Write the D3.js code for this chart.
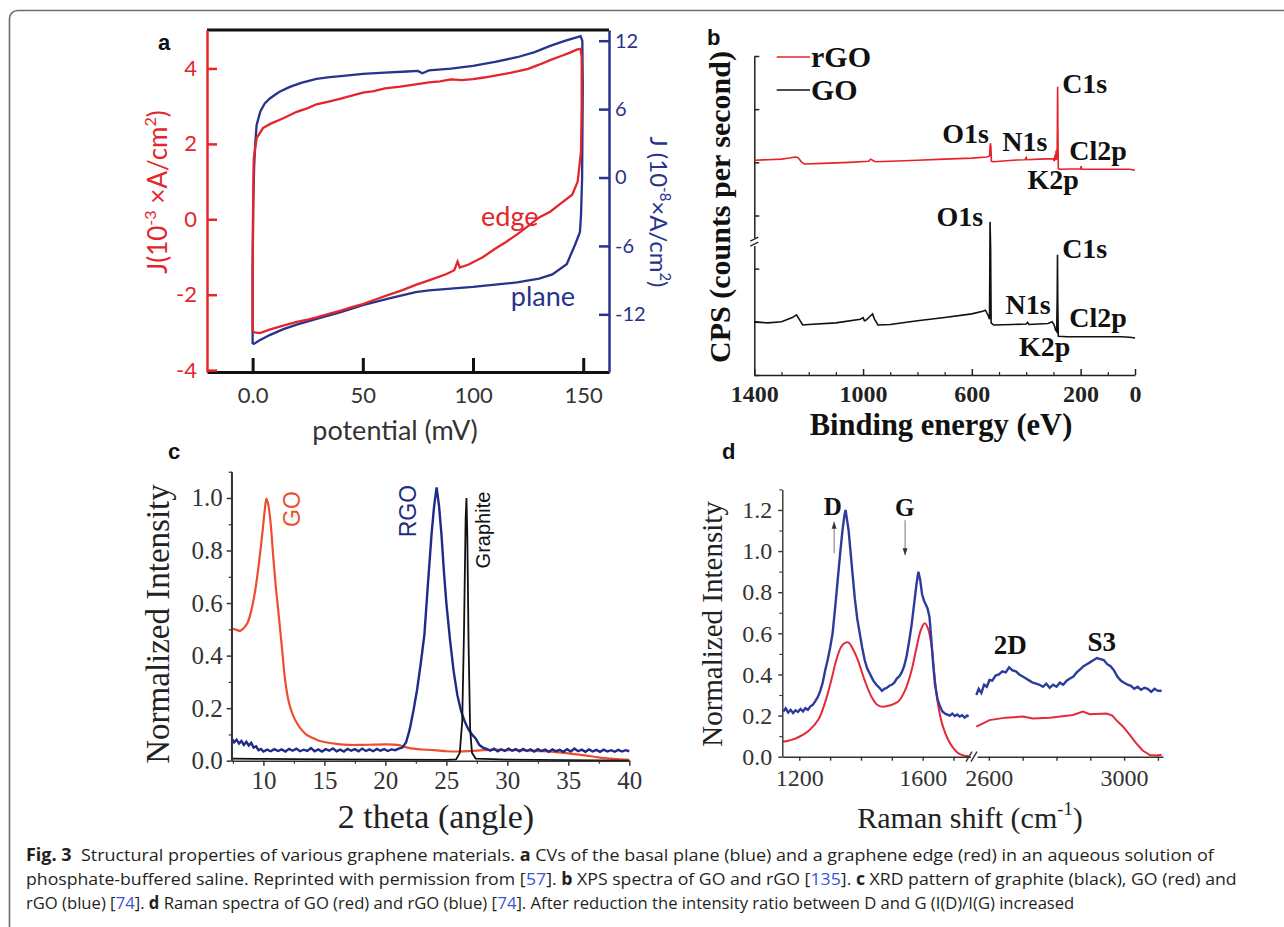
<!DOCTYPE html>
<html><head><meta charset="utf-8">
<script src="https://cdn.jsdelivr.net/npm/d3@7"></script>
<style>body{margin:0;background:#fff}svg{display:block}</style>
</head><body><svg id="fig" width="1284" height="927"></svg>
<script>
// ---------------- DATA ----------------
// Panel a: cyclic voltammograms [potential mV, J]
const cvEdge = [[0,-2.98],[0,-1.5],[0.2,0.2],[0.5,1.6],[1.8,2.15],[4.7,2.42],[8,2.53],[13.9,2.68],[20,2.85],[25,2.95],[29,3.05],[35,3.13],[40,3.2],[45,3.28],[50,3.36],[55,3.4],[60,3.47],[67,3.52],[74,3.58],[80,3.63],[85,3.66],[90,3.71],[95,3.69],[100,3.72],[105,3.76],[110,3.81],[115,3.86],[120,3.92],[125,3.99],[130,4.1],[135,4.22],[140,4.33],[144,4.42],[147,4.5],[148.8,4.52],[149.3,4.3],[149.3,3.0],[149,1.8],[147.5,1.0],[145,0.65],[139,0.38],[135,0.2],[130,0.05],[125,-0.18],[120,-0.4],[115,-0.6],[110,-0.78],[104.6,-1.0],[98,-1.2],[94,-1.28],[93,-1.12],[91.5,-1.35],[88,-1.45],[80,-1.62],[74,-1.74],[68,-1.88],[62,-2.0],[56,-2.12],[50,-2.25],[45,-2.33],[40,-2.42],[35,-2.5],[29,-2.6],[25,-2.66],[20,-2.72],[13.9,-2.82],[8,-2.92],[3.3,-3.02],[1,-3.0],[0,-2.98]];
const cvPlane = [[0,-14.6],[0,-8],[0.3,-2],[0.7,1.0],[1.2,3.0],[1.8,4.6],[3.5,5.8],[5.5,6.5],[7.8,6.93],[12,7.5],[16.9,7.95],[22,8.3],[29,8.65],[35,8.8],[40,8.9],[50,9.1],[60,9.2],[70,9.3],[75,9.35],[77,9.15],[80,9.4],[90,9.55],[100,9.8],[110,10.15],[120,10.55],[128,11.0],[135,11.55],[142,12.0],[147,12.3],[148.8,12.4],[149.6,12.0],[149.8,8],[149.5,0],[149,-3.3],[148.5,-4.8],[146.3,-5.9],[142.5,-7.6],[136,-8.5],[130,-8.86],[120,-9.2],[110,-9.4],[100,-9.6],[90,-9.75],[80,-9.9],[74,-10.05],[62,-10.6],[50,-11.2],[40,-11.8],[29,-12.4],[20,-12.9],[14,-13.3],[8,-13.8],[3,-14.3],[0.5,-14.6],[0,-14.6]];
const cvXTicks = [0, 50, 100, 150];
const cvLeftTicks = [-4, -2, 0, 2, 4];
const cvRightTicks = [-12, -6, 0, 6, 12];

// Panel b: XPS survey [binding energy eV, counts (a.u.)]
const xpsRGO = [[1400,4.04],[1350,4.05],[1300,4.06],[1270,4.08],[1250,4.1],[1240,4.09],[1225,4.0],[1215,3.97],[1150,3.98],[1050,4.0],[980,4.02],[972,4.06],[962,4.03],[955,4.01],[900,4.02],[800,4.04],[700,4.06],[600,4.08],[545,4.1],[535,4.12],[532,4.36],[530,4.3],[528,4.02],[520,4.01],[450,4.04],[405,4.05],[400,4.09],[398,4.05],[350,4.06],[300,4.07],[297,4.02],[294,4.14],[292,4.04],[290,4.22],[288,4.05],[286,4.3],[285,5.1],[284.5,5.42],[283.5,4.6],[282,3.88],[275,3.87],[200,3.88],[198,3.93],[196,3.87],[100,3.87],[20,3.87],[10,3.86],[0,3.85]];
const xpsGO = [[1400,1.0],[1350,0.98],[1300,1.0],[1260,1.08],[1245,1.13],[1235,1.05],[1222,0.94],[1200,0.95],[1100,0.98],[1010,1.05],[1000,1.08],[995,1.02],[990,1.03],[975,1.1],[965,1.15],[958,1.05],[945,0.94],[900,0.95],[800,1.02],[700,1.08],[600,1.15],[560,1.2],[550,1.22],[540,1.12],[535,1.05],[533,2.88],[531,2.4],[529,0.98],[520,0.94],[450,0.95],[400,0.96],[395,0.99],[390,0.95],[320,0.97],[305,1.0],[298,0.95],[292,0.85],[288,0.82],[286,1.5],[285,2.26],[284,1.4],[282,0.73],[250,0.72],[150,0.72],[50,0.72],[20,0.71],[5,0.7],[0,0.69]];
const xpsXTicks = [1400, 1000, 600, 200, 0];
const xpsXMinor = [1300, 1200, 1100, 900, 800, 700, 500, 400, 300, 100];
const xpsYTicks = [0, 1, 2, 3, 4, 5, 6];
const xpsLabels = [["O1s",622.8,4.546],["N1s",405,4.378],["C1s",185,5.486],["Cl2p",136,4.213],["K2p",301,3.667],
                   ["O1s",644,2.977],["C1s",185,2.383],["N1s",393,1.317],["Cl2p",136,1.078],["K2p",332,0.532]];

// Panel c: XRD [2 theta, normalized intensity]
const xrdGO = [[7.4,0.503],[7.8,0.498],[8.1,0.494],[8.4,0.505],[8.7,0.525],[9.0,0.57],[9.3,0.64],[9.6,0.74],[9.9,0.86],[10.1,0.95],[10.25,0.998],[10.4,0.975],[10.6,0.9],[10.8,0.78],[11.0,0.67],[11.2,0.58],[11.5,0.44],[11.8,0.3],[12.1,0.22],[12.5,0.165],[13.0,0.125],[13.5,0.1],[14.0,0.087],[14.5,0.077],[15.0,0.071],[16.0,0.064],[17.0,0.06],[18.0,0.06],[19.0,0.061],[20.0,0.062],[21.0,0.06],[21.8,0.05],[22.5,0.045],[24.0,0.04],[25.0,0.036],[26.0,0.035],[27.0,0.037],[28.0,0.04],[29.0,0.042],[30.0,0.04],[31.0,0.04],[32.0,0.038],[33.0,0.036],[34.0,0.033],[35.0,0.028],[36.0,0.022],[37.0,0.016],[38.0,0.01],[39.0,0.006],[40.0,0.003]];
const xrdRGO = [[7.4,0.085],[7.6,0.07],[7.8,0.08],[8.0,0.065],[8.2,0.075],[8.4,0.06],[8.6,0.072],[8.8,0.058],[9.0,0.068],[9.2,0.05],[9.4,0.055],[9.6,0.04],[9.8,0.045],[10.0,0.035],[10.3,0.042],[10.6,0.036],[10.9,0.044],[11.2,0.037],[11.5,0.043],[11.8,0.035],[12.1,0.045],[12.4,0.038],[12.7,0.046],[13.0,0.036],[13.3,0.042],[13.6,0.037],[13.9,0.048],[14.2,0.036],[14.5,0.043],[14.8,0.035],[15.1,0.044],[15.4,0.038],[15.7,0.047],[16.0,0.036],[16.3,0.042],[16.6,0.035],[16.9,0.045],[17.2,0.038],[17.5,0.044],[17.8,0.036],[18.1,0.046],[18.4,0.037],[18.7,0.043],[19.0,0.036],[19.3,0.045],[19.6,0.038],[19.9,0.044],[20.2,0.037],[20.5,0.043],[20.8,0.04],[21.1,0.046],[21.4,0.05],[21.7,0.07],[22.0,0.12],[22.3,0.19],[22.6,0.27],[22.9,0.37],[23.2,0.48],[23.5,0.68],[23.8,0.87],[24.0,0.97],[24.2,1.04],[24.4,0.97],[24.6,0.86],[24.8,0.72],[25.0,0.6],[25.3,0.46],[25.6,0.34],[25.9,0.25],[26.2,0.19],[26.5,0.15],[26.8,0.12],[27.1,0.1],[27.4,0.085],[27.7,0.06],[28.0,0.05],[28.3,0.045],[28.6,0.038],[28.9,0.046],[29.2,0.036],[29.5,0.043],[29.8,0.037],[30.1,0.046],[30.4,0.038],[30.7,0.044],[31.0,0.036],[31.3,0.045],[31.6,0.037],[31.9,0.043],[32.2,0.035],[32.5,0.044],[32.8,0.037],[33.1,0.042],[33.4,0.034],[33.7,0.043],[34.0,0.036],[34.3,0.041],[34.6,0.034],[34.9,0.044],[35.2,0.035],[35.5,0.046],[35.8,0.036],[36.1,0.042],[36.4,0.034],[36.7,0.043],[37.0,0.035],[37.3,0.041],[37.6,0.034],[37.9,0.042],[38.2,0.035],[38.5,0.04],[38.8,0.034],[39.1,0.041],[39.4,0.035],[39.7,0.04],[40.0,0.036]];
const xrdGraphite = [[7.4,0.008],[10,0.007],[15,0.005],[20,0.004],[25,0.003],[25.8,0.005],[26.1,0.03],[26.3,0.15],[26.45,0.5],[26.58,0.92],[26.65,1.0],[26.72,0.85],[26.82,0.45],[26.95,0.12],[27.1,0.03],[27.4,0.008],[30,0.004],[35,0.002],[40,0.0]];
const xrdXTicks = [10, 15, 20, 25, 30, 35, 40];
const xrdXMinor = [7.5, 12.5, 17.5, 22.5, 27.5, 32.5, 37.5];
const xrdYTicks = [0, 0.2, 0.4, 0.6, 0.8, 1.0];
const xrdYMinor = [0.1, 0.3, 0.5, 0.7, 0.9, 1.1];
const xrdLabels = [["GO",12.32,0.958],["RGO",21.86,0.95],["Graphite",28.0,0.878]];

// Panel d: Raman [shift cm-1, normalized intensity]
const ramanRGOLow = [[1148,0.22],[1156,0.235],[1164,0.215],[1172,0.228],[1180,0.212],[1188,0.226],[1196,0.218],[1204,0.232],[1212,0.22],[1220,0.236],[1228,0.228],[1236,0.245],[1244,0.252],[1252,0.27],[1260,0.29],[1268,0.32],[1276,0.36],[1284,0.42],[1292,0.47],[1300,0.53],[1308,0.6],[1316,0.72],[1324,0.85],[1332,0.98],[1340,1.1],[1346,1.17],[1350,1.2],[1354,1.16],[1360,1.1],[1366,1.0],[1372,0.9],[1380,0.77],[1388,0.67],[1396,0.6],[1404,0.53],[1412,0.47],[1420,0.43],[1430,0.4],[1440,0.37],[1450,0.35],[1460,0.335],[1468,0.32],[1476,0.33],[1484,0.335],[1492,0.345],[1500,0.35],[1508,0.36],[1516,0.38],[1524,0.39],[1532,0.41],[1540,0.44],[1548,0.49],[1556,0.56],[1564,0.64],[1572,0.74],[1580,0.84],[1586,0.9],[1592,0.86],[1598,0.79],[1604,0.76],[1610,0.74],[1616,0.72],[1622,0.68],[1628,0.57],[1634,0.45],[1640,0.35],[1648,0.28],[1656,0.245],[1664,0.22],[1672,0.21],[1680,0.205],[1688,0.2],[1696,0.21],[1704,0.198],[1712,0.205],[1720,0.195],[1728,0.202],[1736,0.19],[1744,0.2],[1749,0.195]];
const ramanGOLow = [[1148,0.073],[1175,0.082],[1200,0.097],[1230,0.125],[1261,0.178],[1285,0.27],[1304,0.373],[1320,0.47],[1336,0.535],[1350,0.555],[1360,0.555],[1375,0.52],[1390,0.47],[1410,0.38],[1434,0.292],[1455,0.25],[1472,0.243],[1495,0.25],[1521,0.268],[1545,0.33],[1564,0.42],[1580,0.53],[1595,0.62],[1607,0.649],[1618,0.62],[1629,0.535],[1640,0.37],[1651,0.243],[1665,0.15],[1683,0.081],[1700,0.04],[1716,0.016],[1735,0.005],[1749,0.003]];
const ramanRGOHigh = [[2563,0.3],[2570,0.33],[2578,0.31],[2586,0.35],[2594,0.34],[2602,0.373],[2610,0.37],[2620,0.395],[2630,0.4],[2640,0.415],[2650,0.41],[2660,0.435],[2670,0.42],[2680,0.415],[2690,0.4],[2700,0.39],[2710,0.38],[2720,0.37],[2730,0.36],[2740,0.355],[2750,0.35],[2760,0.34],[2770,0.355],[2780,0.335],[2790,0.35],[2800,0.34],[2810,0.36],[2820,0.35],[2830,0.37],[2840,0.38],[2850,0.39],[2860,0.41],[2870,0.425],[2880,0.44],[2890,0.45],[2900,0.46],[2910,0.47],[2920,0.48],[2930,0.475],[2940,0.47],[2950,0.45],[2960,0.44],[2970,0.42],[2980,0.39],[2990,0.37],[3000,0.36],[3010,0.35],[3020,0.345],[3030,0.33],[3040,0.34],[3050,0.325],[3060,0.335],[3070,0.33],[3080,0.315],[3090,0.33],[3100,0.32],[3111,0.321]];
const ramanGOHigh = [[2563,0.146],[2580,0.16],[2602,0.178],[2650,0.19],[2701,0.195],[2730,0.186],[2780,0.19],[2849,0.203],[2878,0.219],[2898,0.207],[2948,0.21],[2965,0.2],[2977,0.178],[2997,0.146],[3015,0.11],[3036,0.065],[3055,0.03],[3076,0.008],[3095,0.006],[3111,0.01]];
const ramanLowTicks = [1200, 1300, 1400, 1500, 1600, 1700];
const ramanLowLabels = [1200, 1600];
const ramanHighTicks = [2600, 2700, 2800, 2900, 3000, 3100];
const ramanHighLabels = [2600, 3000];
const ramanYTicks = [0, 0.2, 0.4, 0.6, 0.8, 1.0, 1.2];
const ramanYMinor = [0.1, 0.3, 0.5, 0.7, 0.9, 1.1, 1.3];
const ramanPeakLabels = [["D",1309,1.217,"low"],["G",1542,1.21,"low"],["2D",2663,0.543,"high"],["S3",2934,0.559,"high"]];
const ramanArrows = [[1313,0.99,1.143],[1543,1.15,0.98]];

// ---------------- DRAW ----------------
const SANS = "Lato, 'Open Sans', sans-serif";
const SERIF = "'Liberation Serif', 'Times New Roman', serif";
const svg = d3.select("#fig");

// outer rounded frame
svg.append("path").attr("d","M9.5,927 L9.5,18.5 A8,8 0 0 1 17.5,10.5 L1284,10.5")
  .attr("fill","none").attr("stroke","#6e6e6e").attr("stroke-width",1.6);

function styleAxis(g, color, w, font, size, weight){
  g.attr("font-family", font).attr("font-size", size).attr("font-weight", weight||"normal");
  g.select(".domain").attr("stroke", color).attr("stroke-width", w);
  g.selectAll(".tick line").attr("stroke", color).attr("stroke-width", w);
  g.selectAll(".tick text").attr("fill", color);
}
function rich(textSel, parts, fs){
  parts.forEach((p,i)=>{
    const t = textSel.append("tspan").text(p.t);
    if(p.sup){ t.attr("font-size", fs*0.62).attr("dy", -fs*0.42); }
    else if(i>0 && parts[i-1].sup){ t.attr("dy", fs*0.42); }
  });
}
function panelLetter(x,y,s){
  svg.append("text").attr("x",x).attr("y",y).text(s)
    .attr("font-family","'Liberation Sans', Arial, sans-serif").attr("font-weight","bold").attr("font-size",22).attr("fill","#111");
}

// ===== Panel a =====
const A = {l:207, r:609, t:30, b:372};
const aRed = "#e3262b", aBlue = "#27338c";
const ax = d3.scaleLinear().domain([-20.7, 161.7]).range([A.l, A.r]);
const ayL = d3.scaleLinear().domain([-4.05, 5.02]).range([A.b, A.t]);
const ayR = d3.scaleLinear().domain([-17.06, 12.94]).range([A.b, A.t]);
const pa = svg.append("g");
pa.append("line").attr("x1",A.l).attr("x2",A.r).attr("y1",A.t).attr("y2",A.t).attr("stroke","#111").attr("stroke-width",3);
const gAB = pa.append("g").attr("transform",`translate(0,${A.b})`)
  .call(d3.axisBottom(ax).tickValues(cvXTicks).tickSize(-14).tickSizeOuter(0).tickPadding(15).tickFormat(d=> d===0?"0.0":String(d)));
styleAxis(gAB, "#111", 3, SANS, 22);
gAB.selectAll(".tick text").attr("fill","#333");
const gAL = pa.append("g").attr("transform",`translate(${A.l},0)`)
  .call(d3.axisLeft(ayL).tickValues(cvLeftTicks).tickSize(-10).tickSizeOuter(0).tickPadding(10).tickFormat(d=>String(d)));
styleAxis(gAL, aRed, 2.5, SANS, 22);
const gAR = pa.append("g").attr("transform",`translate(${A.r},0)`)
  .call(d3.axisRight(ayR).tickValues(cvRightTicks).tickSize(-10).tickSizeOuter(0).tickPadding(6).tickFormat(d=>String(d)));
styleAxis(gAR, aBlue, 2.5, SANS, 20);
pa.append("path").datum(cvPlane).attr("fill","none").attr("stroke",aBlue).attr("stroke-width",2.3)
  .attr("d", d3.line().x(d=>ax(d[0])).y(d=>ayR(d[1])));
pa.append("path").datum(cvEdge).attr("fill","none").attr("stroke",aRed).attr("stroke-width",2.3)
  .attr("d", d3.line().x(d=>ax(d[0])).y(d=>ayL(d[1])));
pa.append("text").attr("x",ax(116.7)).attr("y",ayL(0.03)).attr("dy","0.3em").attr("text-anchor","middle")
  .attr("font-family",SANS).attr("font-size",27).attr("fill",aRed).text("edge");
pa.append("text").attr("x",ax(131.7)).attr("y",ayR(-10.59)).attr("dy","0.3em").attr("text-anchor","middle")
  .attr("font-family",SANS).attr("font-size",27).attr("fill",aBlue).text("plane");
pa.append("text").attr("x",(A.l+A.r)/2-13).attr("y",440).attr("text-anchor","middle")
  .attr("font-family",SANS).attr("font-size",27).attr("fill","#333").text("potential (mV)");
const aYL = pa.append("text").attr("transform","translate(167,192) rotate(-90)").attr("text-anchor","middle")
  .attr("font-family",SANS).attr("font-size",26).attr("fill",aRed);
rich(aYL,[{t:"J(10"},{t:"-3",sup:true},{t:" ×A/cm"},{t:"2",sup:true},{t:")"}],26);
const aYR = pa.append("text").attr("transform","translate(650,212) rotate(90)").attr("text-anchor","middle")
  .attr("font-family",SANS).attr("font-size",24).attr("fill",aBlue);
rich(aYR,[{t:"J (10"},{t:"-8",sup:true},{t:"×A/cm"},{t:"2",sup:true},{t:")"}],24);
panelLetter(158,50,"a");

// ===== Panel b =====
const B = {l:754.3, r:1135, t:56, b:375};
const bx = d3.scaleLinear().domain([1400,0]).range([B.l,B.r]);
const by = d3.scaleLinear().domain([0,6]).range([B.b,B.t]);
const pb = svg.append("g");
const gBY = pb.append("g").attr("transform",`translate(${B.l},0)`)
  .call(d3.axisLeft(by).tickValues(xpsYTicks).tickSize(-5).tickSizeOuter(0).tickFormat(""));
styleAxis(gBY, "#222", 1.5, SERIF, 24);
const gBX = pb.append("g").attr("transform",`translate(0,${B.b})`)
  .call(d3.axisBottom(bx).tickValues(xpsXTicks).tickSize(-6).tickSizeOuter(0).tickPadding(10).tickFormat(d=>String(d)));
styleAxis(gBX, "#222", 1.5, SERIF, 24, "bold");
const gBXm = pb.append("g").attr("transform",`translate(0,${B.b})`)
  .call(d3.axisBottom(bx).tickValues(xpsXMinor).tickSize(-3).tickSizeOuter(0).tickFormat(""));
gBXm.select(".domain").remove();
gBXm.selectAll(".tick line").attr("stroke","#222").attr("stroke-width",1.2);
// axis break
const brkY = by(2.5);
pb.append("rect").attr("x",B.l-4).attr("y",brkY-4).attr("width",8).attr("height",8).attr("fill","#fff");
pb.append("path").attr("d",`M${B.l-4},${brkY-1} L${B.l+4},${brkY-5} M${B.l-4},${brkY+4} L${B.l+4},${brkY}`)
  .attr("stroke","#222").attr("stroke-width",1.3).attr("fill","none");
pb.append("path").datum(xpsRGO).attr("fill","none").attr("stroke","#e8202a").attr("stroke-width",1.6)
  .attr("d", d3.line().x(d=>bx(d[0])).y(d=>by(d[1])));
pb.append("path").datum(xpsGO).attr("fill","none").attr("stroke","#111").attr("stroke-width",1.6)
  .attr("d", d3.line().x(d=>bx(d[0])).y(d=>by(d[1])));
pb.selectAll("text.pk").data(xpsLabels).join("text").attr("class","pk")
  .attr("x",d=>bx(d[1])).attr("y",d=>by(d[2])).attr("dy","0.33em").attr("text-anchor","middle")
  .attr("font-family",SERIF).attr("font-weight","bold").attr("font-size",28).attr("fill","#111").text(d=>d[0]);
// legend
[["rGO","#e8202a",57],["GO","#111",90]].forEach(([t,c,y])=>{
  pb.append("line").attr("x1",776.7).attr("x2",810).attr("y1",y).attr("y2",y).attr("stroke",c).attr("stroke-width",1.6);
  pb.append("text").attr("x",811).attr("y",y).attr("dy","0.33em").attr("font-family",SERIF).attr("font-weight","bold")
    .attr("font-size",30).attr("fill","#111").text(t);
});
pb.append("text").attr("x",941).attr("y",435).attr("text-anchor","middle").attr("font-family",SERIF)
  .attr("font-weight","bold").attr("font-size",30.5).attr("fill","#111").text("Binding energy (eV)");
pb.append("text").attr("transform","translate(720,207) rotate(-90)").attr("dy","0.33em").attr("text-anchor","middle")
  .attr("font-family",SERIF).attr("font-weight","bold").attr("font-size",30).attr("fill","#111").text("CPS (counts per second)");
panelLetter(707,45,"b");

// ===== Panel c =====
const C = {l:231.7, r:629.3, t:471.7, b:760.7};
const cx = d3.scaleLinear().domain([7.4,40]).range([C.l,C.r]);
const cy = d3.scaleLinear().domain([0,1.1]).range([C.b,C.t]);
const pc = svg.append("g");
const cGO = "#ee4e2f", cRGO = "#1e2c88";
pc.append("path").datum(xrdGO).attr("fill","none").attr("stroke",cGO).attr("stroke-width",2.2)
  .attr("d", d3.line().curve(d3.curveCatmullRom).x(d=>cx(d[0])).y(d=>cy(d[1])));
pc.append("path").datum(xrdRGO).attr("fill","none").attr("stroke",cRGO).attr("stroke-width",2.4)
  .attr("d", d3.line().x(d=>cx(d[0])).y(d=>cy(d[1])));
pc.append("path").datum(xrdGraphite).attr("fill","none").attr("stroke","#111").attr("stroke-width",1.8)
  .attr("d", d3.line().x(d=>cx(d[0])).y(d=>cy(d[1])));
const gCY = pc.append("g").attr("transform",`translate(${C.l},0)`)
  .call(d3.axisLeft(cy).tickValues(xrdYTicks).tickSize(5).tickSizeOuter(0).tickPadding(4).tickFormat(d3.format(".1f")));
styleAxis(gCY, "#333", 1.5, SERIF, 25);
const gCYm = pc.append("g").attr("transform",`translate(${C.l},0)`)
  .call(d3.axisLeft(cy).tickValues(xrdYMinor).tickSize(3).tickSizeOuter(0).tickFormat(""));
gCYm.select(".domain").remove(); gCYm.selectAll(".tick line").attr("stroke","#333").attr("stroke-width",1.2);
pc.append("line").attr("x1",C.l).attr("x2",C.l).attr("y1",C.t).attr("y2",C.b).attr("stroke","#333").attr("stroke-width",1.5);
const gCX = pc.append("g").attr("transform",`translate(0,${C.b})`)
  .call(d3.axisBottom(cx).tickValues(xrdXTicks).tickSize(5).tickSizeOuter(0).tickPadding(6).tickFormat(d=>String(d)));
styleAxis(gCX, "#333", 1.5, SERIF, 25);
const gCXm = pc.append("g").attr("transform",`translate(0,${C.b})`)
  .call(d3.axisBottom(cx).tickValues(xrdXMinor).tickSize(3).tickSizeOuter(0).tickFormat(""));
gCXm.select(".domain").remove(); gCXm.selectAll(".tick line").attr("stroke","#333").attr("stroke-width",1.2);
const xrdColors = {"GO":cGO,"RGO":cRGO,"Graphite":"#111"};
pc.selectAll("text.lab").data(xrdLabels).join("text").attr("class","lab")
  .attr("transform",d=>`translate(${cx(d[1])},${cy(d[2])}) rotate(-90)`).attr("dy","0.35em").attr("text-anchor","middle")
  .attr("font-family","'Liberation Sans', Arial, sans-serif").attr("font-size",d=>d[0]==="Graphite"?20:23)
  .attr("fill",d=>xrdColors[d[0]]).text(d=>d[0]);
pc.append("text").attr("x",436).attr("y",828).attr("text-anchor","middle").attr("font-family",SERIF)
  .attr("font-size",34).attr("fill","#222").text("2 theta (angle)");
pc.append("text").attr("transform","translate(158,624) rotate(-90)").attr("dy","0.33em").attr("text-anchor","middle")
  .attr("font-family",SERIF).attr("font-size",33).attr("fill","#222").text("Normalized Intensity");
panelLetter(168,459,"c");

// ===== Panel d =====
const Dp = {l:782.3, t:488.3, b:756.7};
const dxL = d3.scaleLinear().domain([1145,1755]).range([782.3,970.5]);
const dxH = d3.scaleLinear().domain([2565,3115]).range([977,1163]);
const dy = d3.scaleLinear().domain([0,1.3]).range([Dp.b, Dp.b-267.3]);
const pd = svg.append("g");
const dBlue = "#2c3c9c", dRed = "#e5283a";
pd.append("path").datum(ramanGOLow).attr("fill","none").attr("stroke",dRed).attr("stroke-width",2)
  .attr("d", d3.line().curve(d3.curveCatmullRom).x(d=>dxL(d[0])).y(d=>dy(d[1])));
pd.append("path").datum(ramanGOHigh).attr("fill","none").attr("stroke",dRed).attr("stroke-width",2)
  .attr("d", d3.line().x(d=>dxH(d[0])).y(d=>dy(d[1])));
pd.append("path").datum(ramanRGOLow).attr("fill","none").attr("stroke",dBlue).attr("stroke-width",2.4)
  .attr("d", d3.line().x(d=>dxL(d[0])).y(d=>dy(d[1])));
pd.append("path").datum(ramanRGOHigh).attr("fill","none").attr("stroke",dBlue).attr("stroke-width",2.4)
  .attr("d", d3.line().x(d=>dxH(d[0])).y(d=>dy(d[1])));
const gDY = pd.append("g").attr("transform",`translate(${Dp.l},0)`)
  .call(d3.axisLeft(dy).tickValues(ramanYTicks).tickSize(4).tickSizeOuter(0).tickPadding(6).tickFormat(d3.format(".1f")));
styleAxis(gDY, "#333", 1.4, SERIF, 24);
const gDYm = pd.append("g").attr("transform",`translate(${Dp.l},0)`)
  .call(d3.axisLeft(dy).tickValues(ramanYMinor).tickSize(3).tickSizeOuter(0).tickFormat(""));
gDYm.select(".domain").remove(); gDYm.selectAll(".tick line").attr("stroke","#333").attr("stroke-width",1.1);
const gDXL = pd.append("g").attr("transform",`translate(0,${Dp.b})`)
  .call(d3.axisBottom(dxL).tickValues(ramanLowTicks).tickSize(4).tickSizeOuter(0).tickPadding(8)
    .tickFormat(d=> ramanLowLabels.includes(d)?String(d):""));
styleAxis(gDXL, "#333", 1.4, SERIF, 24);
const gDXH = pd.append("g").attr("transform",`translate(0,${Dp.b})`)
  .call(d3.axisBottom(dxH).tickValues(ramanHighTicks).tickSize(4).tickSizeOuter(0).tickPadding(8)
    .tickFormat(d=> ramanHighLabels.includes(d)?String(d):""));
styleAxis(gDXH, "#333", 1.4, SERIF, 24);
// axis break "//"
pd.append("path").attr("d",`M966,${Dp.b+5} L972,${Dp.b-5} M971,${Dp.b+5} L977,${Dp.b-5}`)
  .attr("stroke","#333").attr("stroke-width",1.4).attr("fill","none");
pd.selectAll("text.pk").data(ramanPeakLabels).join("text").attr("class","pk")
  .attr("x",d=> d[3]==="low"?dxL(d[1]):dxH(d[1])).attr("y",d=>dy(d[2])).attr("dy","0.33em").attr("text-anchor","middle")
  .attr("font-family",SERIF).attr("font-weight","bold").attr("font-size",d=>d[0].length>1?27:25).attr("fill","#111").text(d=>d[0]);
ramanArrows.forEach(([x,y0,y1])=>{
  const X = dxL(x), Y0 = dy(y0), Y1 = dy(y1), dir = Y1<Y0 ? 1 : -1;
  pd.append("line").attr("x1",X).attr("x2",X).attr("y1",Y0).attr("y2",Y1).attr("stroke","#777").attr("stroke-width",1);
  pd.append("path").attr("d",`M${X},${Y1} L${X-2.5},${Y1+7*dir} L${X+2.5},${Y1+7*dir} Z`).attr("fill","#333");
});
const dXT = pd.append("text").attr("x",970).attr("y",828).attr("text-anchor","middle").attr("font-family",SERIF)
  .attr("font-size",30).attr("fill","#222");
rich(dXT,[{t:"Raman shift (cm"},{t:"-1",sup:true},{t:")"}],30);
pd.append("text").attr("transform","translate(712,624) rotate(-90)").attr("dy","0.33em").attr("text-anchor","middle")
  .attr("font-family",SERIF).attr("font-size",29).attr("fill","#222").text("Normalized Intensity");
panelLetter(722,459,"d");

// ===== Caption =====
const captionLines = [
  [["Fig. 3",1],["  Structural properties of various graphene materials. "],["a",1],[" CVs of the basal plane (blue) and a graphene edge (red) in an aqueous solution of"]],
  [["phosphate-buffered saline. Reprinted with permission from ["],["57",0,1],["]. "],["b",1],[" XPS spectra of GO and rGO ["],["135",0,1],["]. "],["c",1],[" XRD pattern of graphite (black), GO (red) and"]],
  [["rGO (blue) ["],["74",0,1],["]. "],["d",1],[" Raman spectra of GO (red) and rGO (blue) ["],["74",0,1],["]. After reduction the intensity ratio between D and G (I(D)/I(G) increased"]]
];
const captionWidths = [1188, 1211, 1049];
const captionBaselines = [861, 885, 909];
captionLines.forEach((parts,i)=>{
  const g = svg.append("g");
  let x = 0;
  parts.forEach(p=>{
    const t = g.append("text").attr("x",x).attr("y",0)
      .attr("font-family","'Open Sans', 'Noto Sans', sans-serif").attr("font-size",17)
      .attr("font-weight", p[1] ? "bold" : "normal")
      .attr("fill", p[2] ? "#3b55d6" : "#231f20")
      .style("white-space","pre").text(p[0]);
    x += t.node().getComputedTextLength();
  });
  const k = captionWidths[i] / x;
  g.attr("transform",`translate(26,${captionBaselines[i]}) scale(${k},1)`);
});
</script></body></html>
